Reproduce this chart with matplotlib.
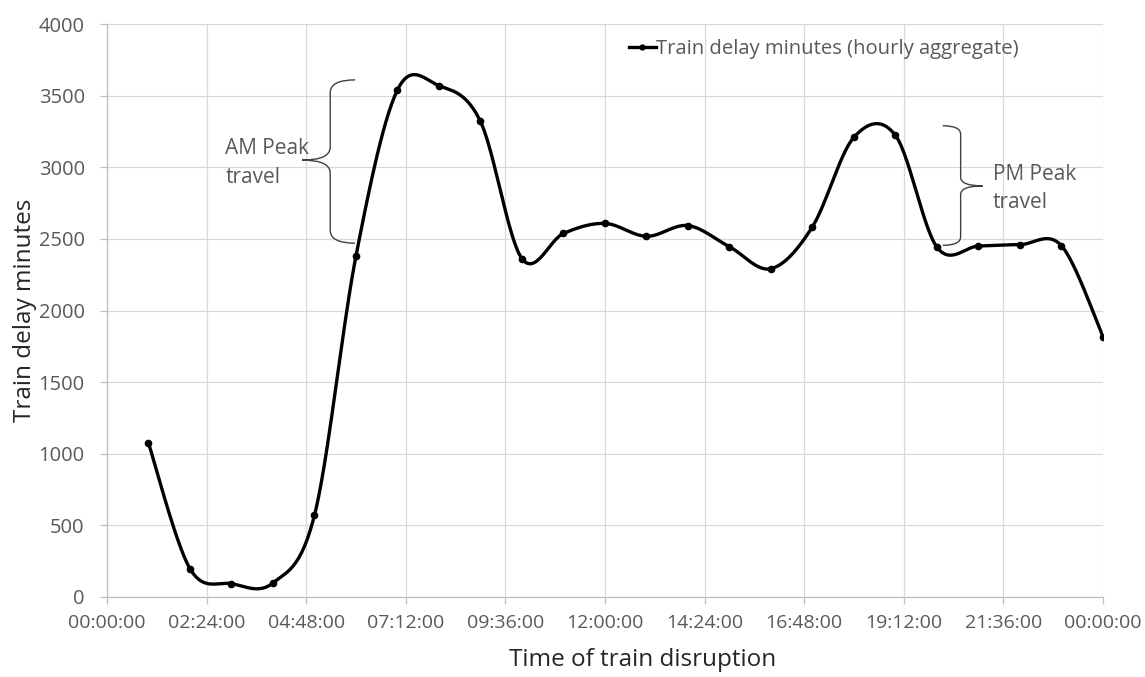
import numpy as np
import matplotlib
matplotlib.use("Agg")
import matplotlib.pyplot as plt
from matplotlib.path import Path
from matplotlib.patches import PathPatch

plt.rcParams['font.family'] = ['Open Sans', 'DejaVu Sans']

# hourly aggregate of delay minutes (hour of day 1..24)
hours = [1, 2, 3, 4, 5, 6, 7, 8, 9, 10, 11, 12,
         13, 14, 15, 16, 17, 18, 19, 20, 21, 22, 23, 24]
delay_minutes = [1075, 198, 93, 98, 570, 2380, 3540, 3570, 3320, 2362, 2538, 2608,
                 2518, 2593, 2445, 2292, 2585, 3210, 3222, 2442, 2450, 2460, 2452, 1818]

tick_hours = [0, 2.4, 4.8, 7.2, 9.6, 12, 14.4, 16.8, 19.2, 21.6, 24]
tick_labels = ['00:00:00', '02:24:00', '04:48:00', '07:12:00', '09:36:00', '12:00:00',
               '14:24:00', '16:48:00', '19:12:00', '21:36:00', '00:00:00']
y_ticks = [0, 500, 1000, 1500, 2000, 2500, 3000, 3500, 4000]

GRID = '#d9d9d9'
TEXT = '#595959'


def smooth_line(x, y, n=30):
    # Catmull-Rom style cubic Bezier through every point (spreadsheet "smoothed line")
    x = np.asarray(x, float)
    y = np.asarray(y, float)
    px = np.concatenate([[x[0]], x, [x[-1]]])
    py = np.concatenate([[y[0]], y, [y[-1]]])
    t = np.linspace(0, 1, n)[:, None]
    xs, ys = [], []
    for i in range(1, len(px) - 2):
        p0 = np.array([px[i], py[i]])
        p3 = np.array([px[i + 1], py[i + 1]])
        c1 = p0 + (np.array([px[i + 1], py[i + 1]]) - np.array([px[i - 1], py[i - 1]])) / 6
        c2 = p3 - (np.array([px[i + 2], py[i + 2]]) - np.array([px[i], py[i]])) / 6
        seg = ((1 - t) ** 3) * p0 + 3 * ((1 - t) ** 2) * t * c1 + 3 * (1 - t) * t ** 2 * c2 + t ** 3 * p3
        xs.append(seg[:, 0])
        ys.append(seg[:, 1])
    return np.concatenate(xs), np.concatenate(ys)


def brace(ax, x_end, x_mid, x_tip, y_top, y_bot, y_tip, ry):
    # curly bracket: ends at x_end, spine at x_mid, point at x_tip
    verts = [(x_end, y_top), (x_mid, y_top), (x_mid, y_top - ry),
             (x_mid, y_tip + ry), (x_mid, y_tip), (x_tip, y_tip),
             (x_mid, y_tip), (x_mid, y_tip - ry),
             (x_mid, y_bot + ry), (x_mid, y_bot), (x_end, y_bot)]
    codes = [Path.MOVETO, Path.CURVE3, Path.CURVE3,
             Path.LINETO, Path.CURVE3, Path.CURVE3,
             Path.CURVE3, Path.CURVE3,
             Path.LINETO, Path.CURVE3, Path.CURVE3]
    ax.add_patch(PathPatch(Path(verts, codes), fill=False, edgecolor='#404040', lw=1.0))


fig = plt.figure(figsize=(11.45, 6.77), dpi=100)
ax = fig.add_axes([0.0934, 0.1182, 0.8699, 0.8463])

sx, sy = smooth_line(hours, delay_minutes)
ax.plot(sx, sy, color='black', lw=2.4, solid_capstyle='round', zorder=3)
ax.plot(hours, delay_minutes, 'o', color='black', ms=4.5, zorder=4)
# legend handle: line with marker
ax.plot([], [], '-o', color='black', lw=2.4, ms=3.5,
        label='Train delay minutes (hourly aggregate)')

ax.set_xlim(0, 24)
ax.set_ylim(0, 4000)
ax.set_xticks(tick_hours)
ax.set_xticklabels(tick_labels)
ax.set_yticks(y_ticks)

ax.grid(True, color=GRID, lw=0.9)
ax.set_axisbelow(True)
for s in ['top', 'right']:
    ax.spines[s].set_visible(False)
for s in ['left', 'bottom']:
    ax.spines[s].set_color('#bfbfbf')
    ax.spines[s].set_linewidth(0.9)
ax.tick_params(axis='both', colors='#bfbfbf', labelcolor=TEXT, labelsize=14.5,
               length=5, width=0.9)
ax.tick_params(axis='x', pad=7, labelsize=14)
ax.tick_params(axis='y', pad=11)

ax.set_ylabel('Train delay minutes', fontsize=17.5, color='#262626', labelpad=1)
fig.text(0.561, 0.025, 'Time of train disruption', fontsize=17.5, color='#262626',
         ha='center', va='center')

leg = ax.legend(loc='upper left', bbox_to_anchor=(0.506, 1.005), frameon=False,
                handlelength=1.3, handletextpad=0.0, fontsize=14.6)
for txt in leg.get_texts():
    txt.set_color(TEXT)

# peak travel brackets
brace(ax, 5.98, 5.38, 4.70, 3610, 2470, 3050, 90)
ax.text(2.85, 3030, 'AM Peak\ntravel', fontsize=15, color=TEXT,
        ha='left', va='center', linespacing=1.45)
brace(ax, 20.14, 20.57, 21.10, 3290, 2455, 2870, 60)
ax.text(21.35, 2850, 'PM Peak\ntravel', fontsize=15, color=TEXT,
        ha='left', va='center', linespacing=1.45)

fig.savefig('out.png', dpi=100)
